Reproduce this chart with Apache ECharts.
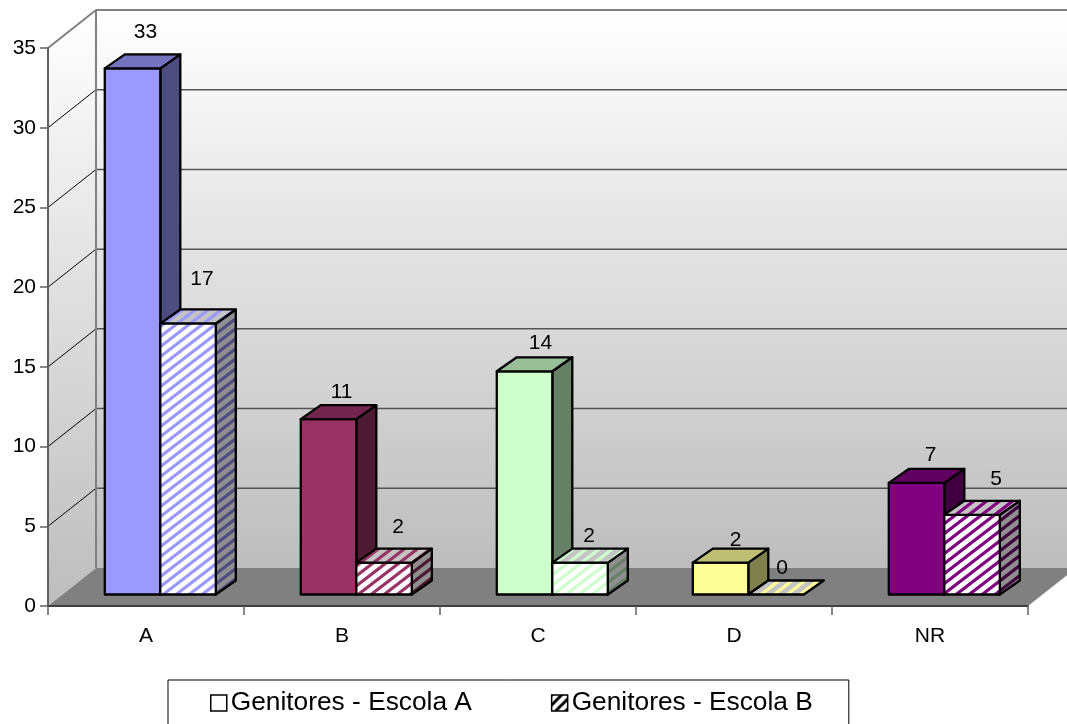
<!DOCTYPE html>
<html><head><meta charset="utf-8">
<style>html,body{margin:0;padding:0;background:#fff}#c{width:1067px;height:724px}</style>
<script src="https://cdn.jsdelivr.net/npm/echarts@6/dist/echarts.min.js"></script>
</head><body><div id="c"></div>
<script>
const categories = ['A', 'B', 'C', 'D', 'NR'];
const escolaA = [33, 11, 14, 2, 7];
const escolaB = [17, 2, 2, 0, 5];
const yTicks = [0, 5, 10, 15, 20, 25, 30, 35];
const seriesNames = ['Genitores - Escola A', 'Genitores - Escola B'];

const faceColors = ['#9999FF', '#993366', '#CCFFCC', '#FFFF99', '#800080'];
const topColors  = ['#7373BF', '#73264D', '#99BF99', '#BFBF73', '#600060'];
const sideColors = ['#4D4D80', '#4D1933', '#668066', '#80804D', '#400040'];

const labelNudgeA = [[13, -36], [13, -27], [16, -28], [15, -22], [14, -28]];
const labelNudgeB = [[14, -44], [14, -35], [9, -26], [6, -26], [24, -36]];

const WALL_DX = 48, WALL_DY = -38, Z_DX = 14.3, Z_DY = -11.5, BAR_DX = 20, BAR_DY = -14, BAR_FRAC = 0.2832;

function stripe(color, bg) {
  const w = 13, h = 10;
  const c = document.createElement('canvas');
  c.width = w; c.height = h;
  const g = c.getContext('2d');
  g.fillStyle = bg; g.fillRect(0, 0, w, h);
  g.strokeStyle = color; g.lineWidth = 3.2;
  for (let i = -1; i <= 1; i++) {
    g.beginPath();
    g.moveTo(i * w - 2.6, h + 2);
    g.lineTo(i * w + w + 2.6, -2);
    g.stroke();
  }
  return { image: c, repeat: 'repeat' };
}

function renderBars(values, idx) {
  const cache = categories.map((_, i) => ({
    front: stripe(faceColors[i], '#ffffff'),
    top: stripe(faceColors[i], '#c4c4c4'),
    side: stripe(sideColors[i], '#8f8f8f')
  }));
  return function (params, api) {
    const i = api.value(0), v = api.value(1);
    const base = api.coord([i, 0]), tip = api.coord([i, v]);
    const w = api.size([1, 0])[0] * BAR_FRAC;
    const x0 = base[0] + Z_DX + (idx - 1) * w, x1 = x0 + w;
    const yB = base[1] + Z_DY, yT = tip[1] + Z_DY;
    const patterned = idx === 1;
    const st = { stroke: '#000', lineWidth: 2.3, lineJoin: 'round' };
    const f = patterned ? cache[i].front : faceColors[i];
    const t = patterned ? cache[i].top : topColors[i];
    const s = patterned ? cache[i].side : sideColors[i];
    const nudge = (idx === 0 ? labelNudgeA : labelNudgeB)[i];
    const children = [];
    if (v > 0) {
      children.push({ type: 'polygon', shape: { points: [[x1, yT], [x1 + BAR_DX, yT + BAR_DY], [x1 + BAR_DX, yB + BAR_DY], [x1, yB]] }, style: Object.assign({ fill: s }, st) });
      children.push({ type: 'rect', shape: { x: x0, y: yT, width: w, height: yB - yT }, style: Object.assign({ fill: f }, st) });
    }
    children.push({ type: 'polygon', shape: { points: [[x0, yT], [x0 + BAR_DX, yT + BAR_DY], [x1 + BAR_DX, yT + BAR_DY], [x1, yT]] }, style: Object.assign({ fill: t }, st) });
    children.push({ type: 'text', z2: 50, style: { x: (x0 + x1) / 2 + nudge[0], y: yT + nudge[1], text: String(v), fill: '#000', font: '21px "Liberation Sans", Arial, sans-serif', align: 'center', verticalAlign: 'middle' } });
    return { type: 'group', children };
  };
}

function renderWalls(params, api) {
  const cs = params.coordSys;
  const L = cs.x, R = cs.x + cs.width, yTop = cs.y, y0 = api.coord([0, 0])[1];
  const bL = L + WALL_DX, bR = R + WALL_DX;
  const wallFill = () => new echarts.graphic.LinearGradient(0, 0, 0, 1, [{ offset: 0, color: '#ffffff' }, { offset: 1, color: '#bdbdbd' }]);
  const children = [
    { type: 'polygon', shape: { points: [[bL, yTop + WALL_DY], [bR, yTop + WALL_DY], [bR, y0 + WALL_DY], [bL, y0 + WALL_DY]] }, style: { fill: wallFill() } },
    { type: 'polygon', shape: { points: [[L, yTop], [bL, yTop + WALL_DY], [bL, y0 + WALL_DY], [L, y0]] }, style: { fill: wallFill() } },
    { type: 'polygon', shape: { points: [[L, y0], [bL, y0 + WALL_DY], [bR, y0 + WALL_DY], [R, y0]] }, style: { fill: '#808080' } }
  ];
  yTicks.forEach(t => {
    if (t === 0) return;
    const y = api.coord([0, t])[1];
    const top = t === yTicks[yTicks.length - 1];
    children.push({ type: 'line', shape: { x1: L, y1: y, x2: bL, y2: y + WALL_DY }, style: { stroke: top ? '#808080' : '#000', lineWidth: top ? 2 : 1 } });
    children.push({ type: 'line', shape: { x1: bL, y1: y + WALL_DY, x2: bR, y2: y + WALL_DY }, style: { stroke: top ? '#808080' : '#555', lineWidth: top ? 2 : 1.5 } });
  });
  children.push({ type: 'line', shape: { x1: bL, y1: yTop + WALL_DY, x2: bL, y2: y0 + WALL_DY }, style: { stroke: '#808080', lineWidth: 2 } });
  return { type: 'group', children };
}

const legendHatch = (function () {
  const c = document.createElement('canvas');
  c.width = 10; c.height = 10;
  const g = c.getContext('2d');
  g.fillStyle = '#fff'; g.fillRect(0, 0, 10, 10);
  g.strokeStyle = '#000'; g.lineWidth = 3;
  for (let i = -1; i <= 1; i++) { g.beginPath(); g.moveTo(i * 10 - 2, 12); g.lineTo(i * 10 + 12, -2); g.stroke(); }
  return { image: c, repeat: 'repeat' };
})();

const chart = echarts.init(document.getElementById('c'), null, { renderer: 'canvas' });
chart.setOption({
  animation: false,
  backgroundColor: '#ffffff',
  textStyle: { fontFamily: '"Liberation Sans", Arial, sans-serif' },
  grid: { left: 48, right: 39, top: 48, bottom: 118, containLabel: false },
  xAxis: {
    type: 'category', data: categories, z: 20,
    axisLine: { lineStyle: { color: '#404040', width: 2 } },
    axisTick: { show: true, interval: 0, alignWithLabel: false, length: 9, lineStyle: { color: '#606060', width: 1.5 } },
    axisLabel: { color: '#000', fontSize: 21, margin: 20, interval: 0 }
  },
  yAxis: {
    type: 'value', min: 0, max: 35, interval: 5, z: 20,
    axisLine: { show: true, lineStyle: { color: '#606060', width: 2 } },
    axisTick: { show: true, length: 8, lineStyle: { color: '#606060', width: 1.5 } },
    axisLabel: { color: '#000', fontSize: 21, margin: 12 },
    splitLine: { show: false }
  },
  legend: {
    left: 168, top: 680, orient: 'horizontal',
    backgroundColor: '#fff', borderColor: '#000', borderWidth: 1,
    padding: [10, 36, 11, 42], itemGap: 79, itemWidth: 16, itemHeight: 16,
    selectedMode: false,
    textStyle: { color: '#000', fontSize: 26.3, padding: [0, 0, 0, -1] },
    data: [
      { name: seriesNames[0], icon: 'rect', itemStyle: { color: '#fff', borderColor: '#000', borderWidth: 1.5 } },
      { name: seriesNames[1], icon: 'rect', itemStyle: { color: legendHatch, borderColor: '#000', borderWidth: 1.5 } }
    ]
  },
  series: [
    { type: 'custom', name: 'walls', silent: true, z: 1, renderItem: renderWalls, data: [[0, 0]], clip: false, encode: { x: 0, y: 1 } },
    { type: 'custom', name: seriesNames[0], z: 3, clip: false, renderItem: renderBars(escolaA, 0), encode: { x: 0, y: 1 }, data: escolaA.map((v, i) => [i, v]) },
    { type: 'custom', name: seriesNames[1], z: 4, clip: false, renderItem: renderBars(escolaB, 1), encode: { x: 0, y: 1 }, data: escolaB.map((v, i) => [i, v]) }
  ]
});
</script></body></html>
